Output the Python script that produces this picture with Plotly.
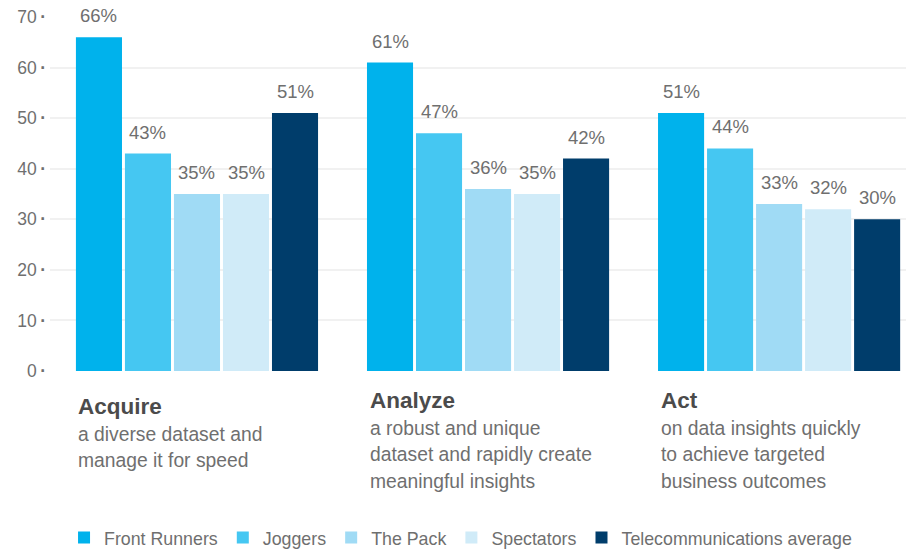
import plotly.graph_objects as go

categories = ["Acquire", "Analyze", "Act"]
cat_subtitles = [
    ["a diverse dataset and", "manage it for speed"],
    ["a robust and unique", "dataset and rapidly create", "meaningful insights"],
    ["on data insights quickly", "to achieve targeted", "business outcomes"],
]
series_names = ["Front Runners", "Joggers", "The Pack", "Spectators", "Telecommunications average"]
front_runners = [66, 61, 51]
joggers = [43, 47, 44]
the_pack = [35, 36, 33]
spectators = [35, 35, 32]
telecom_avg = [51, 42, 30]
series_values = [front_runners, joggers, the_pack, spectators, telecom_avg]
colors = ["#00b2ec", "#45c7f2", "#a0dbf5", "#d0ebf8", "#003d6b"]
tick_vals = [0, 10, 20, 30, 40, 50, 60, 70]
tick_text = [f"{v}\u2009<b>\u00b7</b>" for v in tick_vals]

BARGAP = 0.158
FONT = "Liberation Sans, Arial, Helvetica, sans-serif"
TEXT = "#6f6f6f"

# layout in pixels (used only to place the text blocks under the groups)
PLOT_TOP, PLOT_BOTTOM = 17, 371
PLOT_H = PLOT_BOTTOM - PLOT_TOP


def py(pix):
    return (PLOT_BOTTOM - pix) / PLOT_H


title_pix = [406, 400, 400]
line_pitch = 26.7
first_line_offset = 28

fig = go.Figure()
for name, vals, col in zip(series_names, series_values, colors):
    fig.add_trace(go.Bar(
        x=list(range(len(categories))), y=vals, name=name,
        marker=dict(color=col, line=dict(width=0)),
        hoverinfo="skip",
    ))

nser = len(series_names)
slot = (1 - BARGAP) / nser
annotations = []
for gi in range(len(categories)):
    for j, vals in enumerate(series_values):
        annotations.append(dict(
            x=gi + (j - (nser - 1) / 2) * slot, y=vals[gi], xref="x", yref="y",
            text=f"{vals[gi]}%", showarrow=False, yanchor="bottom", yshift=9,
            font=dict(size=18.5, color=TEXT, family=FONT),
        ))

for gi, (cat, subs) in enumerate(zip(categories, cat_subtitles)):
    left = gi - (1 - BARGAP) / 2
    annotations.append(dict(
        x=left, y=py(title_pix[gi]), xref="x", yref="paper", xanchor="left", yanchor="middle",
        text=f"<b>{cat}</b>", showarrow=False, xshift=2,
        font=dict(size=22.5, color="#4b4b4b", family=FONT),
    ))
    for li, line in enumerate(subs):
        annotations.append(dict(
            x=left, y=py(title_pix[gi] + first_line_offset + li * line_pitch),
            xref="x", yref="paper", xanchor="left", yanchor="middle",
            text=line, showarrow=False, align="left", xshift=2,
            font=dict(size=19.3, color=TEXT, family=FONT),
        ))

fig.update_layout(
    width=906, height=550,
    margin=dict(l=50, r=0, t=PLOT_TOP, b=550 - PLOT_BOTTOM, autoexpand=False),
    paper_bgcolor="white", plot_bgcolor="white",
    barmode="group", bargap=BARGAP, bargroupgap=0.06,
    font=dict(family=FONT, color=TEXT),
    xaxis=dict(range=[-0.505, 2.436], showticklabels=False, showgrid=False,
               zeroline=False, fixedrange=True),
    yaxis=dict(range=[0, 70], tickvals=tick_vals, ticktext=tick_text,
               tickfont=dict(size=17.5, color=TEXT),
               showgrid=True, gridcolor="#f1f1f1", gridwidth=2,
               zeroline=False, ticks="", ticklabelstandoff=3),
    legend=dict(orientation="h", x=0.0164, xanchor="left", y=py(538), yanchor="middle",
                font=dict(size=17.8, color=TEXT), itemwidth=30,
                traceorder="normal"),
    annotations=annotations,
    showlegend=True,
)

fig.write_html("out.html")
